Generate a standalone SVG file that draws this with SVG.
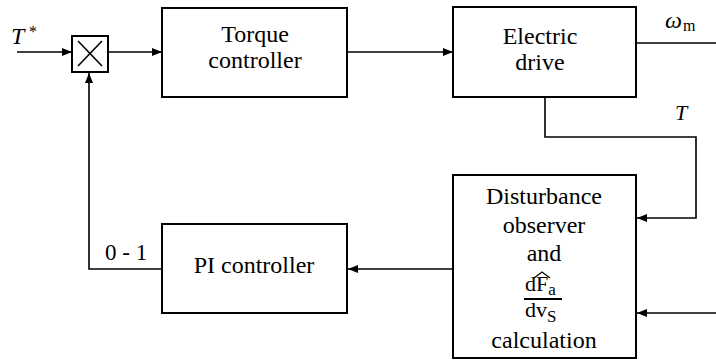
<svg xmlns="http://www.w3.org/2000/svg" width="716" height="363" viewBox="0 0 716 363">
<defs>
<marker id="arr" markerUnits="userSpaceOnUse" markerWidth="10" markerHeight="8" viewBox="0 0 10 8" refX="10" refY="4" orient="auto">
<path d="M0,0 L10,4 L0,8 Z" fill="#000"/>
</marker>
</defs>
<style>
.box{fill:#fff;stroke:#000;stroke-width:2}
.ln{fill:none;stroke:#000;stroke-width:1.6}
text{fill:#000;font-family:"Liberation Serif","Times New Roman",Times,Tinos,"Noto Serif","DejaVu Serif",FreeSerif,serif}
.t{font-size:24px;text-anchor:middle}
.i{font-style:italic}
</style>
<rect width="716" height="363" fill="#fff"/>
<g id="connectors">
<line class="ln" x1="17" y1="52" x2="72" y2="52" marker-end="url(#arr)"/>
<line class="ln" x1="108" y1="52" x2="162" y2="52" marker-end="url(#arr)"/>
<line class="ln" x1="347" y1="52" x2="453" y2="52" marker-end="url(#arr)"/>
<line class="ln" x1="636" y1="43" x2="716" y2="43"/>
<polyline class="ln" points="545,97 545,137 696,137 696,218 637,218" marker-end="url(#arr)"/>
<line class="ln" x1="716" y1="313" x2="637" y2="313" marker-end="url(#arr)"/>
<line class="ln" x1="453" y1="269" x2="348" y2="269" marker-end="url(#arr)"/>
<polyline class="ln" points="162,269 89,269 89,73" marker-end="url(#arr)"/>
</g>
<g id="labels">
<text class="i" x="11" y="44" font-size="24">T</text>
<text x="29" y="37" font-size="16">*</text>
<text class="i" x="665" y="28" font-size="24">ω</text>
<text x="683" y="31" font-size="16">m</text>
<text class="i" x="675" y="120" font-size="22">T</text>
<text x="105" y="260" font-size="23">0 - 1</text>
</g>
<g id="mult">
<rect class="box" x="72" y="36" width="36" height="36"/>
<line class="ln" x1="78" y1="41" x2="102" y2="66"/>
<line class="ln" x1="102" y1="41" x2="78" y2="66"/>
</g>
<g id="torque">
<rect class="box" x="162" y="8" width="185" height="89"/>
<text class="t" x="255" y="42">Torque</text>
<text class="t" x="255" y="68">controller</text>
</g>
<g id="drive">
<rect class="box" x="453" y="7" width="183" height="90"/>
<text class="t" x="540" y="44">Electric</text>
<text class="t" x="540" y="70">drive</text>
</g>
<g id="pi">
<rect class="box" x="162" y="224" width="185" height="89"/>
<text class="t" x="254" y="273">PI controller</text>
</g>
<g id="observer">
<rect class="box" x="453" y="175" width="183" height="183"/>
<text class="t" x="544" y="204">Disturbance</text>
<text class="t" x="544" y="233">observer</text>
<text class="t" x="544" y="261">and</text>
<text x="525" y="291" font-size="22">dF<tspan font-size="17" dy="4">a</tspan></text>
<polyline points="534,278 542,272 550,278" fill="none" stroke="#000" stroke-width="1.2"/>
<line x1="524" y1="299" x2="562" y2="299" stroke="#000" stroke-width="2"/>
<text x="525" y="317" font-size="22">dv<tspan font-size="17" dy="5">S</tspan></text>
<text class="t" x="544" y="348">calculation</text>
</g>
</svg>
